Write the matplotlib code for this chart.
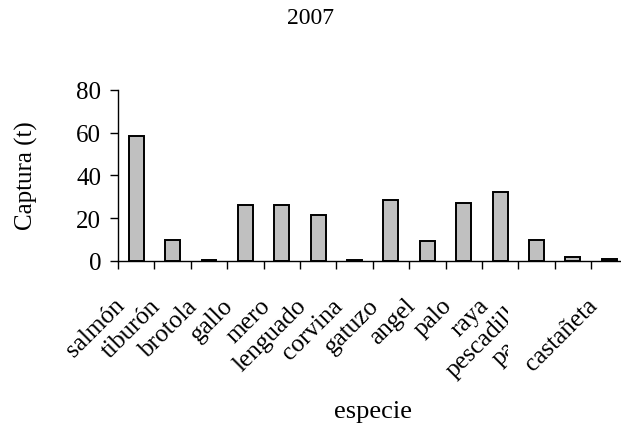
import matplotlib
matplotlib.use('Agg')
import matplotlib.pyplot as plt
import numpy as np
from matplotlib.transforms import offset_copy
from matplotlib.patches import Rectangle

plt.rcParams['font.family'] = ['Liberation Serif', 'DejaVu Serif']

# catch per species, 2007 (tonnes)
species = ['salmón', 'tiburón', 'brotola', 'gallo', 'mero', 'lenguado', 'corvina',
           'gatuzo', 'angel', 'palo', 'raya', 'pescadilla', 'pargo', 'castañeta']
capture = [58.5, 10, 0.7, 26, 26, 21.5, 0.7, 28.6, 9.2, 27, 32.4, 10, 1.8, 0.8]
yticks = [0, 20, 40, 60, 80]

W, H = 621, 431
fig = plt.figure(figsize=(W / 100, H / 100), dpi=100)
ax = fig.add_axes([118 / W, 169 / H, (627.5 - 118) / W, (262 - 90.7) / H])

x = np.arange(len(species))
ax.bar(x, capture, width=0.41, color='#C0C0C0', edgecolor='black', linewidth=1.4)

ax.set_xlim(-0.5, len(species) - 0.5)
ax.set_ylim(0, 80)
ax.set_yticks(yticks)
ax.set_xticks(np.arange(len(species) + 1) - 0.5)
ax.set_xticklabels([])
ax.spines['top'].set_visible(False)
ax.spines['right'].set_visible(False)
ax.spines['left'].set_linewidth(1.0)
ax.spines['bottom'].set_linewidth(1.0)
ax.tick_params(axis='both', direction='out', length=6, width=1.0)
ax.tick_params(axis='y', labelsize=18, pad=6)

# rotated category labels (Excel style), two of them clipped as in the original
clip = Rectangle((0, 0), 508 / W, 1, transform=fig.transFigure, visible=False)
fig.add_artist(clip)
shift = {'pargo': (-45, -52)}
for i, name in enumerate(species):
    dx, dy = shift.get(name, (-23, -33))
    tr = offset_copy(ax.get_xaxis_transform(), fig=fig, x=dx, y=dy, units='dots')
    t = ax.text(i, 0, name, transform=tr, rotation=45, rotation_mode='anchor',
                ha='right', va='top', fontsize=18.2, clip_on=False)
    if name in ('pescadilla', 'pargo'):
        t.set_clip_on(True)
        t.set_clip_path(clip)

fig.text(26 / W, 1 - 176 / H, 'Captura (t)', rotation=90, ha='center', va='center', fontsize=18)
fig.text(0.5 * (118 + 627.5) / W, 1 - 412 / H, 'especie', ha='center', va='center', fontsize=19)
fig.text(0.5, 1 - 18 / H, '2007', ha='center', va='center', fontsize=17)

fig.savefig('out.png', dpi=100)
